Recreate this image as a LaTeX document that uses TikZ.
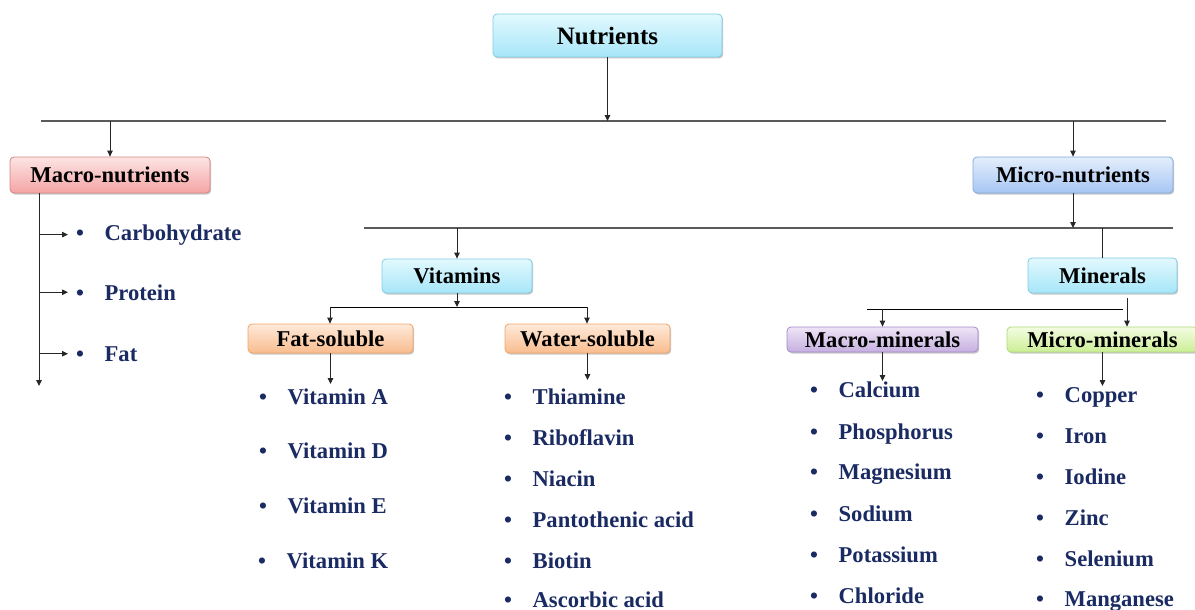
\documentclass[tikz,border=0pt]{standalone}
\usepackage{fontspec}
\setmainfont{Liberation Serif}
\usetikzlibrary{arrows.meta,shadows}
\definecolor{navy}{RGB}{26,42,98}
\definecolor{cyanT}{RGB}{226,249,254}\definecolor{cyanB}{RGB}{166,230,248}\definecolor{cyanD}{RGB}{130,205,228}
\definecolor{pinkT}{RGB}{253,228,228}\definecolor{pinkB}{RGB}{244,164,164}\definecolor{pinkD}{RGB}{214,132,132}
\definecolor{blueT}{RGB}{228,238,252}\definecolor{blueB}{RGB}{166,198,243}\definecolor{blueD}{RGB}{130,168,222}
\definecolor{orT}{RGB}{254,234,218}\definecolor{orB}{RGB}{249,188,142}\definecolor{orD}{RGB}{240,164,104}
\definecolor{puT}{RGB}{238,228,246}\definecolor{puB}{RGB}{198,176,224}\definecolor{puD}{RGB}{164,138,202}
\definecolor{grT}{RGB}{243,252,226}\definecolor{grB}{RGB}{204,238,150}\definecolor{grD}{RGB}{172,218,116}
\definecolor{busgray}{RGB}{90,90,90}
\tikzset{
  box/.style={draw, line width=0.8pt, rounded corners=4pt, inner sep=0pt,
    font=\fontsize{22.6}{24}\selectfont\bfseries,
    drop shadow={shadow xshift=1.2pt, shadow yshift=-1.5pt, opacity=.22, fill=black}},
  cyanbox/.style={box, top color=cyanT, bottom color=cyanB, draw=cyanD},
  pinkbox/.style={box, top color=pinkT, bottom color=pinkB, draw=pinkD},
  bluebox/.style={box, top color=blueT, bottom color=blueB, draw=blueD},
  orbox/.style={box, top color=orT, bottom color=orB, draw=orD},
  pubox/.style={box, top color=puT, bottom color=puB, draw=puD},
  grbox/.style={box, top color=grT, bottom color=grB, draw=grD},
  item/.style={anchor=base west, inner sep=0pt, text=navy,
    font=\fontsize{22.6}{24}\selectfont\bfseries},
  arr/.style={line width=0.9pt, draw=black!85, -{Triangle[length=6pt,width=5.5pt]}},
  bus/.style={line width=1.1pt, draw=busgray},
}
\newcommand{\bul}[1]{\makebox[28.5pt][l]{\textbullet}#1}
\begin{document}
\begin{tikzpicture}[x=1pt,y=-1pt]
\useasboundingbox (0,0) rectangle (1195,610);

% boxes
\node[cyanbox, minimum width=229pt, minimum height=43pt, font=\fontsize{25}{27}\selectfont\bfseries] (nut) at (607.5,35.5) {Nutrients};
\node[pinkbox, minimum width=200pt, minimum height=36pt] (macro) at (110,175) {Macro-nutrients};
\node[bluebox, minimum width=200pt, minimum height=36pt] (micro) at (1073,175) {Micro-nutrients};
\node[cyanbox, minimum width=150pt, minimum height=34pt] (vit) at (457,276) {Vitamins};
\node[cyanbox, minimum width=149pt, minimum height=35pt] (min) at (1102.5,275.5) {Minerals};
\node[orbox, minimum width=165pt, minimum height=29pt] (fat) at (330.5,338.5) {Fat-soluble};
\node[orbox, minimum width=165pt, minimum height=29pt] (water) at (587.5,338.5) {Water-soluble};
\node[pubox, minimum width=191pt, minimum height=25pt] (mmin) at (882.5,339.5) {Macro-minerals};
\node[grbox, minimum width=191pt, minimum height=25pt] (umin) at (1102.5,339.5) {Micro-minerals};

% bus coordinates
\coordinate (b1L) at (41,121); \coordinate (b1R) at (1166,121);
\coordinate (b2L) at (364,228); \coordinate (b2R) at (1173,228);
\coordinate (b3L) at (330,307); \coordinate (b3R) at (587,307);
\coordinate (b4L) at (867,309); \coordinate (b4R) at (1123,309);

\draw[bus] (b1L) -- (b1R);
\draw[bus] (b2L) -- (b2R);
\draw[line width=0.9pt] (b3L) -- (b3R);
\draw[line width=0.9pt] (b4L) -- (b4R);

% connectors
\draw[arr] (nut.south) -- (nut.south |- b1L);
\draw[arr] (macro.north |- b1L) -- (macro.north);
\draw[arr] (micro.north |- b1L) -- (micro.north);
\draw[arr] (micro.south) -- (micro.south |- b2L);
\draw[arr] (vit.north |- b2L) -- (vit.north);
\draw[line width=0.9pt, draw=black!85] (min.north |- b2L) -- (min.north);
\draw[arr] (vit.south) -- (vit.south |- b3L);
\draw[arr] (b3L) -- (fat.north -| b3L);
\draw[arr] (b3R) -- (water.north -| b3R);
\coordinate (mnx) at (1127,298);
\draw[arr] (mnx) -- (umin.north -| mnx);
\draw[arr] (mmin.north |- b4L) -- (mmin.north);

% list arrows
\coordinate (mt) at (39,193); \coordinate (mtEnd) at (39,386);
\draw[arr] (mt) -- (mtEnd);
\coordinate (fatEnd) at (330.5,384);
\coordinate (waterEnd) at (587.5,380);
\coordinate (mminEnd) at (882.5,381);
\coordinate (uminEnd) at (1102.5,386);
\draw[arr] (fat.south) -- (fatEnd);
\draw[arr] (water.south) -- (waterEnd);
\draw[arr] (mmin.south) -- (mminEnd);
\draw[arr] (umin.south) -- (uminEnd);

% macro-nutrient items
\node[item] (carb) at (76,240) {\bul{Carbohydrate}};
\node[item] (prot) at (76,300) {\bul{Protein}};
\node[item] (fatn) at (76,361) {\bul{Fat}};
\draw[arr] (mt |- carb.west) -- ([xshift=-8pt]carb.west);
\draw[arr] (mt |- prot.west) -- ([xshift=-8pt]prot.west);
\draw[arr] (mt |- fatn.west) -- ([xshift=-8pt]fatn.west);

% fat-soluble
\node[item] (va) at (259,404) {\bul{Vitamin A}};
\node[item] (vd) at (259,458) {\bul{Vitamin D}};
\node[item] (ve) at (259,513) {\bul{Vitamin E}};
\node[item] (vk) at (258,568) {\bul{Vitamin K}};

% water-soluble
\node[item] (w1) at (504,404) {\bul{Thiamine}};
\node[item] (w2) at (504,445) {\bul{Riboflavin}};
\node[item] (w3) at (504,486) {\bul{Niacin}};
\node[item] (w4) at (504,527) {\bul{Pantothenic acid}};
\node[item] (w5) at (504,568) {\bul{Biotin}};
\node[item] (w6) at (504,607) {\bul{Ascorbic acid}};

% macro-minerals
\node[item] (m1) at (810,397) {\bul{Calcium}};
\node[item] (m2) at (810,439) {\bul{Phosphorus}};
\node[item] (m3) at (810,479) {\bul{Magnesium}};
\node[item] (m4) at (810,521) {\bul{Sodium}};
\node[item] (m5) at (810,562) {\bul{Potassium}};
\node[item] (m6) at (810,603) {\bul{Chloride}};

% micro-minerals
\node[item] (u1) at (1036,402) {\bul{Copper}};
\node[item] (u2) at (1036,443) {\bul{Iron}};
\node[item] (u3) at (1036,484) {\bul{Iodine}};
\node[item] (u4) at (1036,525) {\bul{Zinc}};
\node[item] (u5) at (1036,566) {\bul{Selenium}};
\node[item] (u6) at (1036,606) {\bul{Manganese}};
\end{tikzpicture}
\end{document}
